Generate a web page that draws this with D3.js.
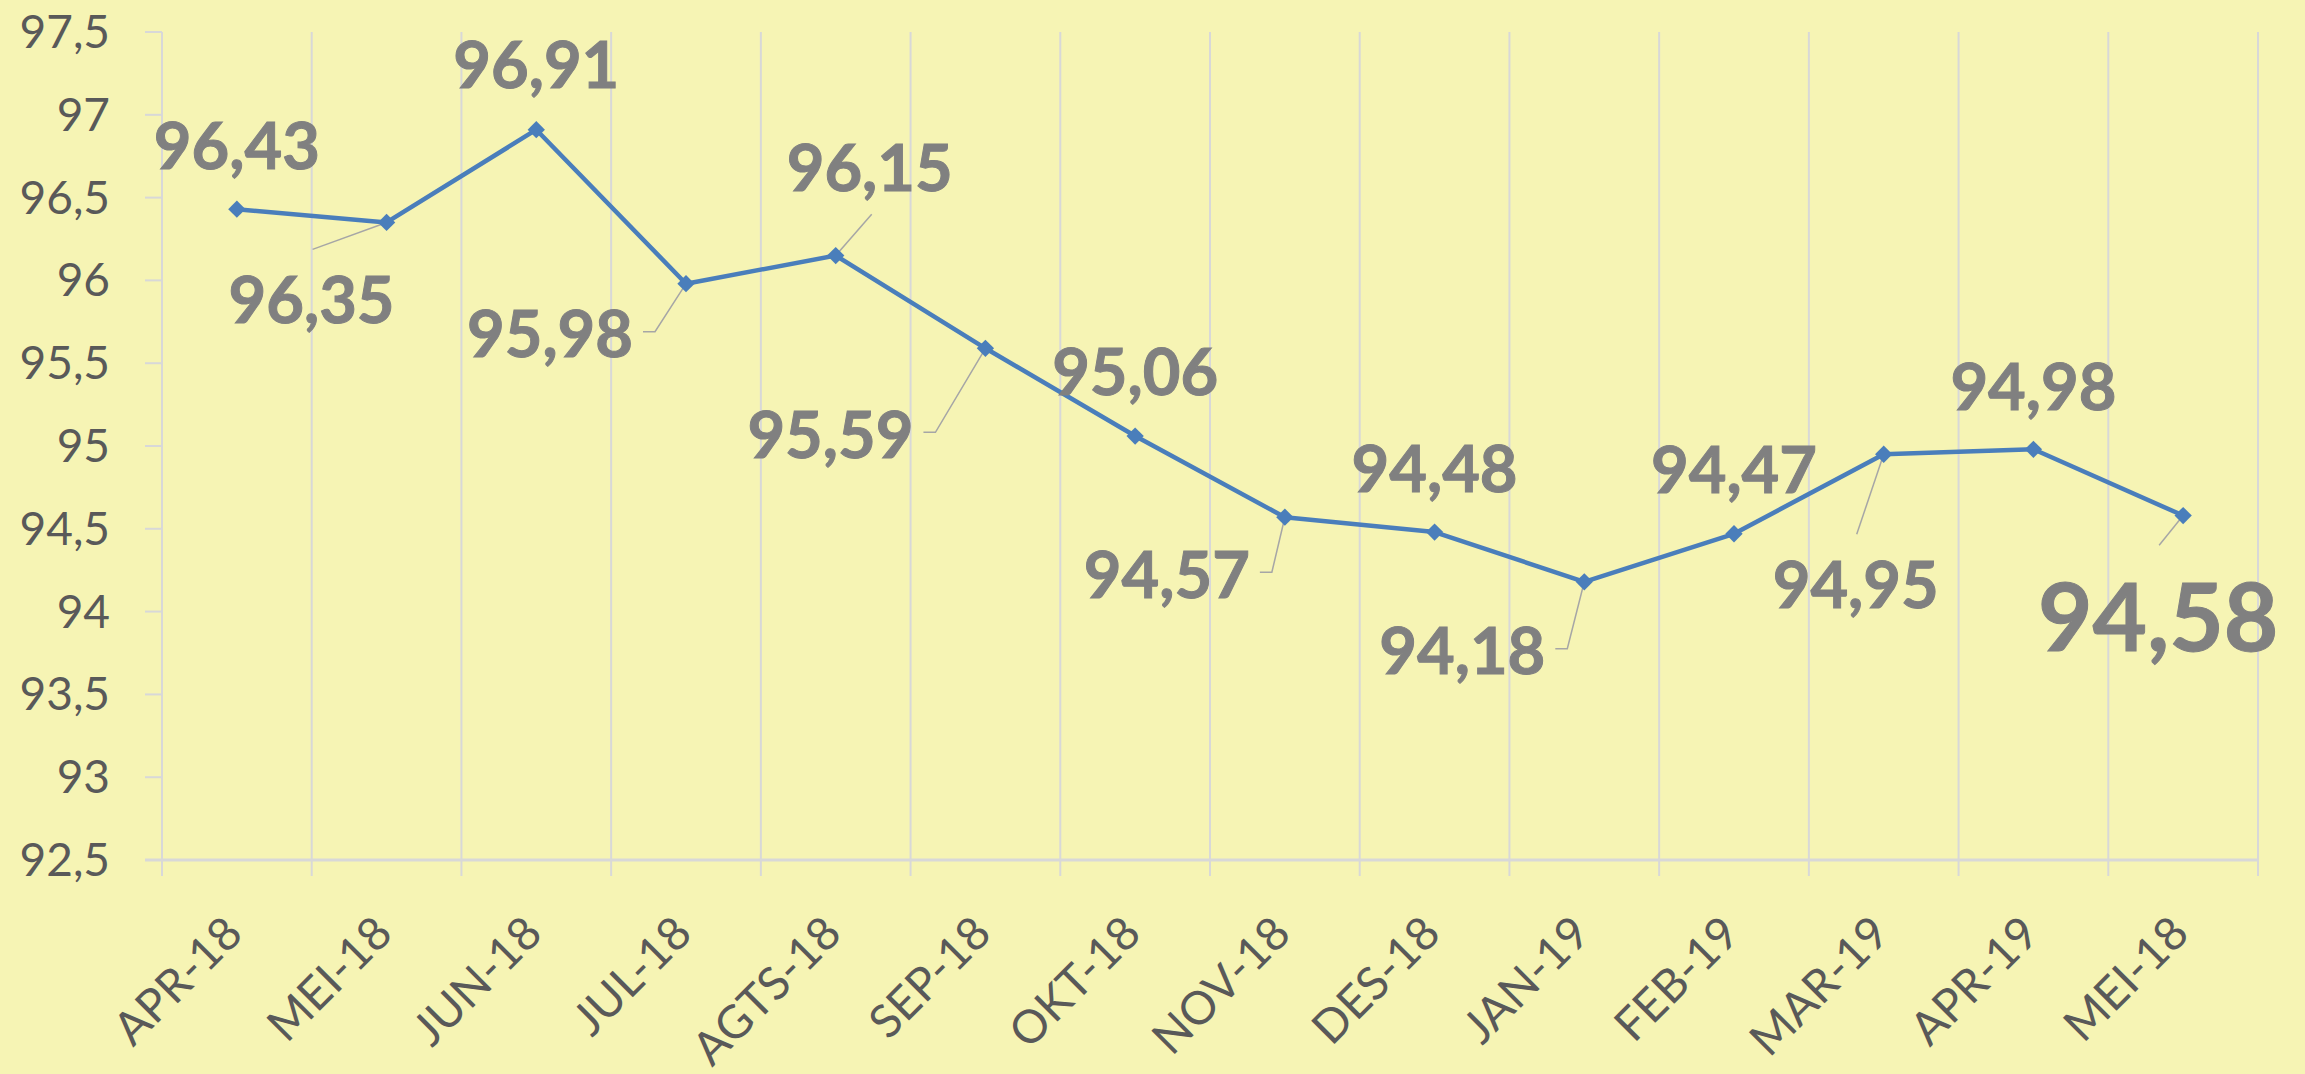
<!DOCTYPE html>
<html>
<head>
<meta charset="utf-8" />
<title>Indeks bulanan</title>
<style>
html, body {
    margin: 0;
    padding: 0;
    background: #f6f4b4;
}
#chart {
    width: 2305px;
    height: 1074px;
}
.y-label, .x-label {
    font-family: Lato, "Open Sans", sans-serif;
    font-size: 46px;
    fill: #595959;
}
.val-label {
    font-family: Lato, "Open Sans", sans-serif;
    font-weight: bold;
    fill: #808080;
    stroke: #808080;
    stroke-width: 1px;
}
</style>
</head>
<body>
<div id="chart"></div>

<script src="https://cdnjs.cloudflare.com/ajax/libs/d3/7.8.5/d3.min.js"></script>
<script>
// data
var months = ["APR-18", "MEI-18", "JUN-18", "JUL-18", "AGTS-18", "SEP-18", "OKT-18",
              "NOV-18", "DES-18", "JAN-19", "FEB-19", "MAR-19", "APR-19", "MEI-18"]
var values = [96.43, 96.35, 96.91, 95.98, 96.15, 95.59, 95.06,
              94.57, 94.48, 94.18, 94.47, 94.95, 94.98, 94.58]
var yTicks = [92.5, 93, 93.5, 94, 94.5, 95, 95.5, 96, 96.5, 97, 97.5]

// where each value label sits relative to its point (px), and how its leader is drawn
var labelDx = [0, -75, 0, -136, 34, -155, 0, -118, 0, -122, 0, -28, 0, -25]
var labelDy = [-64, 77, -65, 50, -88, 86, -64, 57, -64, 69, -64, 130, -63, 102]
var leader  = ["", "top", "", "side", "bottom", "side", "", "side", "", "side", "", "top", "", "top"]
var labelSize = [65, 65, 65, 65, 65, 65, 65, 65, 65, 65, 65, 65, 65, 94]

var W = 2305, H = 1074
var margin = {left: 162, right: 47, top: 32, bottom: 214}

var svg = d3.select("#chart").append("svg")
    .attr("width", W).attr("height", H)

svg.append("rect").attr("width", W).attr("height", H).attr("fill", "#f6f4b4")

var x = d3.scaleBand()
    .domain(d3.range(months.length))
    .range([margin.left, W - margin.right])

var y = d3.scaleLinear()
    .domain([92.5, 97.5])
    .range([H - margin.bottom, margin.top])

var fmt = function(v) { return String(v).replace(".", ",") }
var gridColor = "#d8d8d8"

// vertical gridlines at category boundaries, running down into tick marks
var bounds = d3.range(months.length + 1).map(function(i) {
    return i < months.length ? x(i) : x.range()[1]
})
svg.append("g").selectAll("line").data(bounds).join("line")
    .attr("x1", function(d) { return d }).attr("x2", function(d) { return d })
    .attr("y1", y(97.5)).attr("y2", y(92.5) + 16)
    .attr("stroke", gridColor).attr("stroke-width", 2)

// bottom axis line
svg.append("line")
    .attr("x1", margin.left - 17).attr("x2", x.range()[1])
    .attr("y1", y(92.5)).attr("y2", y(92.5))
    .attr("stroke", gridColor).attr("stroke-width", 3)

// y ticks + labels
var yg = svg.append("g")
yg.selectAll("line").data(yTicks).join("line")
    .attr("x1", margin.left - 17).attr("x2", margin.left)
    .attr("y1", function(d) { return y(d) }).attr("y2", function(d) { return y(d) })
    .attr("stroke", gridColor).attr("stroke-width", 2)
yg.selectAll("text").data(yTicks).join("text")
    .attr("class", "y-label")
    .attr("text-anchor", "end")
    .attr("x", 110)
    .attr("y", function(d) { return y(d) + 16 })
    .text(fmt)

// x labels, rotated
svg.append("g").selectAll("text").data(months).join("text")
    .attr("class", "x-label")
    .attr("text-anchor", "end")
    .attr("transform", function(d, i) {
        return "translate(" + (x(i) + x.bandwidth() / 2 + 8) + "," + (y(92.5) + 76) + ") rotate(-45)"
    })
    .text(function(d) { return d })

var px = function(i) { return x(i) + x.bandwidth() / 2 }

// leader lines and value labels
var lg = svg.append("g")
var tg = svg.append("g")
values.forEach(function(v, i) {
    var fs = labelSize[i]
    var cx = px(i) + labelDx[i], cy = y(v) + labelDy[i]
    var t = tg.append("text")
        .attr("class", "val-label")
        .attr("text-anchor", "middle")
        .attr("x", cx)
        .attr("y", cy + fs * 0.36)
        .attr("font-size", fs + "px")
        .text(fmt(v))
    var half = t.node().getComputedTextLength() / 2
    var pts = null
    if (leader[i] === "side") {
        var sx = cx + half + 10
        pts = [[sx, cy - 2], [sx + 12, cy - 2], [px(i), y(v)]]
    } else if (leader[i] === "top") {
        pts = [[cx + 1, cy - fs * 0.36 - fs * 0.41], [px(i), y(v)]]
    } else if (leader[i] === "bottom") {
        pts = [[cx + 2, cy + fs * 0.36 + fs * 0.36], [px(i), y(v)]]
    }
    if (pts) {
        lg.append("path")
            .attr("d", d3.line()(pts))
            .attr("fill", "none")
            .attr("stroke", "#a6a6a6")
            .attr("stroke-width", 1.5)
    }
})

// the series line
var line = d3.line()
    .x(function(d, i) { return px(i) })
    .y(function(d) { return y(d) })

svg.append("path")
    .datum(values)
    .attr("d", line)
    .attr("fill", "none")
    .attr("stroke", "#4a7ebb")
    .attr("stroke-width", 4.5)
    .attr("stroke-linejoin", "round")

var diamond = d3.symbol().type(d3.symbolSquare).size(150)
svg.append("g").selectAll("path").data(values).join("path")
    .attr("d", diamond)
    .attr("transform", function(d, i) { return "translate(" + px(i) + "," + y(d) + ") rotate(45)" })
    .attr("fill", "#4a7ebb")

// labels drawn above the line
tg.raise()
</script>
</body>
</html>
